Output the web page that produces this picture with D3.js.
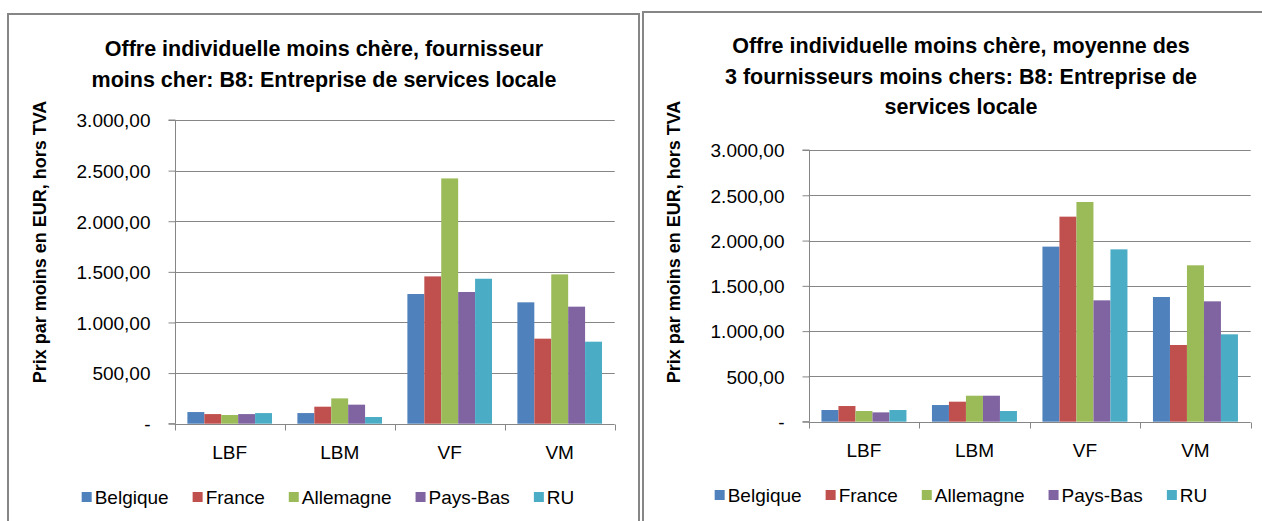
<!DOCTYPE html>
<html>
<head>
<meta charset="utf-8">
<script src="https://cdn.jsdelivr.net/npm/d3@7"></script>
<style>
  body { margin: 0; background: #fff; }
  svg { display: block; font-family: "Liberation Sans", Arial, sans-serif; }
</style>
</head>
<body>
<div id="chart"></div>
<script>
var W = 1262, H = 521;

// data
var categories = ["LBF", "LBM", "VF", "VM"];
var countries = ["Belgique", "France", "Allemagne", "Pays-Bas", "RU"];
var colors = ["#4F81BD", "#C0504D", "#9BBB59", "#8064A2", "#4BACC6"];
var yTicks = [0, 500, 1000, 1500, 2000, 2500, 3000];

// cheapest supplier (left chart), one array per country: LBF, LBM, VF, VM
var cheapBelgique = [115, 105, 1281, 1199];
var cheapFrance   = [95, 168, 1455, 840];
var cheapAllemagne = [86, 250, 2423, 1475];
var cheapPaysBas  = [95, 188, 1301, 1156];
var cheapRU       = [105, 66, 1432, 810];

// average of 3 cheapest suppliers (right chart)
var avgBelgique = [129, 184, 1933, 1377];
var avgFrance   = [173, 221, 2264, 847];
var avgAllemagne = [118, 287, 2426, 1727];
var avgPaysBas  = [103, 287, 1340, 1329];
var avgRU       = [129, 118, 1903, 965];

var titleLeft = ["Offre individuelle moins chère, fournisseur",
                 "moins cher: B8: Entreprise de services locale"];
var titleRight = ["Offre individuelle moins chère, moyenne des",
                  "3 fournisseurs moins chers: B8: Entreprise de",
                  "services locale"];
var yTitle = "Prix par moins en EUR, hors TVA";

var svg = d3.select("#chart").append("svg")
    .attr("width", W).attr("height", H);

function fmt(v) { // 2500 -> 2.500,00 ; 0 -> -
    if (v === 0) return "-";
    var s = d3.format(",.2f")(v);
    return s.replace(/,/g, "#").replace(".", ",").replace(/#/g, ".");
}

function drawPanel(opt) {
    // panel border
    svg.append("rect")
        .attr("x", opt.box[0]).attr("y", opt.box[1])
        .attr("width", opt.box[2]).attr("height", opt.box[3])
        .attr("fill", "none").attr("stroke", "#868686").attr("stroke-width", 2);

    var g = svg.append("g");

    // title
    opt.title.forEach(function(t, i) {
        g.append("text").text(t)
            .attr("x", opt.titleX).attr("y", opt.titleY + i * 30.5)
            .attr("text-anchor", "middle")
            .attr("font-weight", "bold").attr("font-size", "21.5px")
            .attr("fill", "#000");
    });

    var y = d3.scaleLinear().domain([0, 3000]).range([opt.plot.bottom, opt.plot.top]);
    var x0 = d3.scaleBand().domain(categories).range([opt.plot.left, opt.plot.right]);
    var x1 = d3.scaleBand().domain(countries).range([0, x0.bandwidth()])
        .paddingInner(0).paddingOuter(0.75);

    // gridlines
    g.append("g").selectAll("line").data(yTicks.slice(1)).enter().append("line")
        .attr("x1", opt.plot.left).attr("x2", opt.plot.right)
        .attr("y1", function(d) { return Math.round(y(d)) + 0.5; })
        .attr("y2", function(d) { return Math.round(y(d)) + 0.5; })
        .attr("stroke", "#868686").attr("stroke-width", 1);

    // bars
    var series = opt.values;
    var groups = g.append("g").selectAll("g").data(categories).enter().append("g")
        .attr("transform", function(c) { return "translate(" + x0(c) + ",0)"; });
    groups.selectAll("rect")
        .data(function(c, ci) {
            return countries.map(function(k, si) { return { k: k, si: si, v: series[si][ci] }; });
        })
        .enter().append("rect")
        .attr("x", function(d) { return x1(d.k); })
        .attr("width", x1.bandwidth())
        .attr("y", function(d) { return y(d.v); })
        .attr("height", function(d) { return y(0) - y(d.v); })
        .attr("fill", function(d) { return colors[d.si]; });

    // y axis
    var yAxis = d3.axisLeft(y).tickValues(yTicks).tickFormat(fmt).tickSize(7).tickPadding(18);
    var ya = g.append("g")
        .attr("transform", "translate(" + (Math.round(opt.plot.left) + 0.5) + ",0)")
        .call(yAxis);
    ya.selectAll(".tick line").attr("stroke", "#868686");
    ya.select(".domain").attr("stroke", "#868686").attr("d",
        "M-7," + y(0) + "H0V" + y(3000) + "H-7");
    ya.selectAll("text").attr("font-size", "19px").attr("fill", "#000")
        .attr("font-family", "Liberation Sans, Arial, sans-serif")
        .attr("dy", "0.36em");

    // x axis
    var xa = g.append("g")
        .attr("transform", "translate(0," + (Math.round(opt.plot.bottom) + 0.5) + ")");
    xa.append("line")
        .attr("x1", opt.plot.left).attr("x2", opt.plot.right)
        .attr("stroke", "#868686");
    var bounds = categories.map(function(c) { return x0(c); }).concat([opt.plot.right]);
    xa.selectAll(".tk").data(bounds).enter().append("line")
        .attr("x1", function(d) { return Math.round(d) + 0.5; })
        .attr("x2", function(d) { return Math.round(d) + 0.5; })
        .attr("y1", 0).attr("y2", 6).attr("stroke", "#868686");
    xa.selectAll(".cat").data(categories).enter().append("text")
        .text(function(d) { return d; })
        .attr("x", function(d) { return x0(d) + x0.bandwidth() / 2; })
        .attr("y", 34)
        .attr("text-anchor", "middle").attr("font-size", "19px").attr("fill", "#000");

    // y title
    g.append("text").text(yTitle)
        .attr("transform", "translate(" + opt.yTitleX + "," + opt.yTitleY + ") rotate(-90)")
        .attr("text-anchor", "middle")
        .attr("font-weight", "bold").attr("font-size", "18px").attr("fill", "#000");

    // legend
    var lg = g.append("g");
    var cx = 0;
    countries.forEach(function(k, i) {
        lg.append("rect").attr("x", cx).attr("y", -5).attr("width", 10).attr("height", 10)
            .attr("fill", colors[i]);
        var t = lg.append("text").text(k)
            .attr("x", cx + 13).attr("y", 7)
            .attr("font-size", "19px").attr("fill", "#000");
        cx += 13 + t.node().getComputedTextLength() + 24;
    });
    var lw = cx - 24;
    lg.attr("transform", "translate(" + (opt.legendCX - lw / 2) + "," + opt.legendY + ")");
}

drawPanel({
    box: [8, 14, 631, 520],
    title: titleLeft, titleX: 324, titleY: 56,
    plot: { left: 174.7, right: 614.7, top: 120, bottom: 423.7 },
    values: [cheapBelgique, cheapFrance, cheapAllemagne, cheapPaysBas, cheapRU],
    yTitleX: 46, yTitleY: 242,
    legendCX: 328, legendY: 497
});

drawPanel({
    box: [643, 12, 640, 520],
    title: titleRight, titleX: 961, titleY: 53,
    plot: { left: 808.7, right: 1250.7, top: 150, bottom: 421.7 },
    values: [avgBelgique, avgFrance, avgAllemagne, avgPaysBas, avgRU],
    yTitleX: 680, yTitleY: 242,
    legendCX: 961, legendY: 495
});
</script>
</body>
</html>
